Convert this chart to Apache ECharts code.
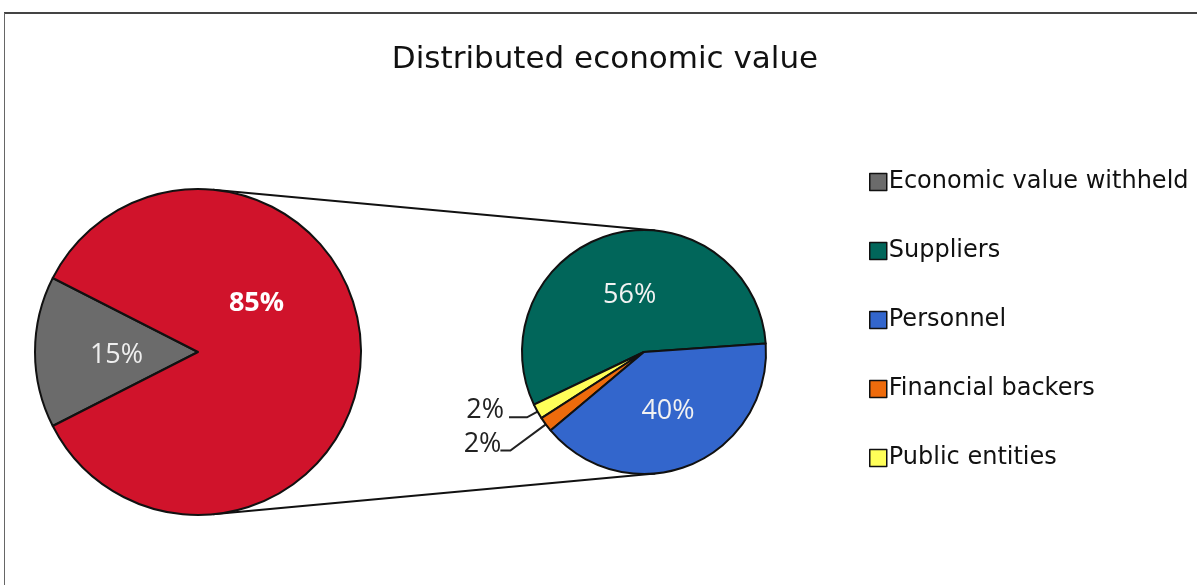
<!DOCTYPE html>
<html>
<head>
<meta charset="utf-8">
<script src="https://cdn.jsdelivr.net/npm/echarts@6/dist/echarts.min.js"></script>
<style>
html,body{margin:0;padding:0;background:#fff;}
#chart{width:1197px;height:585px;}
</style>
</head>
<body>
<div id="chart"></div>
<script>
// ---- data ----
const chartTitle = 'Distributed economic value';
const outerNames = ['Economic value withheld', 'Economic value distributed'];
const outerValues = [15, 85];
const innerNames = ['Suppliers', 'Public entities', 'Financial backers', 'Personnel'];
const innerValues = [56, 2, 2, 40];
const legendOrder = ['Economic value withheld', 'Suppliers', 'Personnel', 'Financial backers', 'Public entities'];

// ---- styles ----
const colors = {
  'Economic value withheld': '#6b6b6b',
  'Economic value distributed': '#d0132b',
  'Suppliers': '#01665a',
  'Personnel': '#3366cc',
  'Financial backers': '#ee6b0c',
  'Public entities': '#ffff59'
};
const C1 = [198, 352], R1 = 163;
const C2 = [644, 352], R2 = 122;

const chart = echarts.init(document.getElementById('chart'), null, {renderer: 'canvas'});

// tangent connector lines computed from the pie geometry
const d = C2[0] - C1[0];
const s = (R1 - R2) / d, c = Math.sqrt(1 - s * s);
const topA = [C1[0] + R1 * s, C1[1] - R1 * c], topB = [C2[0] + R2 * s, C2[1] - R2 * c];
const botA = [C1[0] + R1 * s, C1[1] + R1 * c], botB = [C2[0] + R2 * s, C2[1] + R2 * c];

const labelFont = '"Open Sans", sans-serif';

const outerData = outerNames.map((n, i) => {
  const item = {name: n, value: outerValues[i], itemStyle: {color: colors[n]}};
  if (i === 1) {
    item.label = {offset: [-26, -49], fontWeight: 'bold', color: '#ffffff'};
  } else {
    item.label = {offset: [3, 3], color: '#eeeeee'};
  }
  return item;
});

const innerData = innerNames.map((n, i) => {
  const item = {name: n, value: innerValues[i], itemStyle: {color: colors[n]}};
  if (innerValues[i] < 5) {
    const upper = n === 'Public entities';
    item.label = {position: 'outside', color: '#222', fontSize: 27};
    item.labelLine = {show: true, length: upper ? 12 : 44, length2: upper ? 18 : 10,
      lineStyle: {color: '#222', width: 2}};
  } else {
    item.label = {position: 'inside', color: '#f2f2f2', offset: n === 'Suppliers' ? [2, 5] : [0, 0]};
    item.labelLine = {show: false};
  }
  return item;
});

const option = {
  animation: false,
  backgroundColor: '#ffffff',
  title: {
    text: chartTitle,
    left: 600,
    textAlign: 'center',
    top: 39,
    textStyle: {fontFamily: '"DejaVu Sans", sans-serif', fontSize: 31, fontWeight: 'normal', color: '#111'}
  },
  legend: {
    orient: 'vertical',
    left: 864,
    top: 165,
    itemGap: 45,
    itemWidth: 17,
    itemHeight: 17,
    icon: 'rect',
    selectedMode: false,
    data: legendOrder,
    itemStyle: {borderColor: '#111', borderWidth: 1.5},
    textStyle: {fontFamily: '"DejaVu Sans", sans-serif', fontSize: 24, lineHeight: 24, color: '#111', padding: [0, 0, 0, -3]}
  },
  graphic: [
    {type: 'line', z: 0, shape: {x1: 4, y1: 13, x2: 1197, y2: 13}, style: {stroke: '#444', lineWidth: 2}},
    {type: 'line', z: 0, shape: {x1: 4.5, y1: 13, x2: 4.5, y2: 585}, style: {stroke: '#666', lineWidth: 1}},
    {type: 'line', z: 0, shape: {x1: topA[0], y1: topA[1], x2: topB[0], y2: topB[1]}, style: {stroke: '#111', lineWidth: 2}},
    {type: 'line', z: 0, shape: {x1: botA[0], y1: botA[1], x2: botB[0], y2: botB[1]}, style: {stroke: '#111', lineWidth: 2}}
  ],
  series: [
    {
      type: 'pie',
      z: 3,
      center: C1,
      radius: R1,
      startAngle: 207,
      clockwise: true,
      avoidLabelOverlap: false,
      emphasis: {disabled: true},
      itemStyle: {borderColor: '#111', borderWidth: 2},
      label: {show: true, position: 'inside', formatter: '{c}%', fontFamily: labelFont, fontSize: 27, color: '#fff'},
      labelLine: {show: false},
      data: outerData
    },
    {
      type: 'pie',
      z: 3,
      center: C2,
      radius: R2,
      startAngle: 4,
      clockwise: false,
      avoidLabelOverlap: false,
      emphasis: {disabled: true},
      itemStyle: {borderColor: '#111', borderWidth: 2},
      label: {show: true, formatter: '{c}%', fontFamily: labelFont, fontSize: 27},
      labelLayout: function (p) {
        if (p.dataIndex === 1) return {dy: -7};
        if (p.dataIndex === 2) return {dx: 6, dy: -6};
        return {};
      },
      data: innerData
    }
  ]
};
chart.setOption(option);
</script>
</body>
</html>
